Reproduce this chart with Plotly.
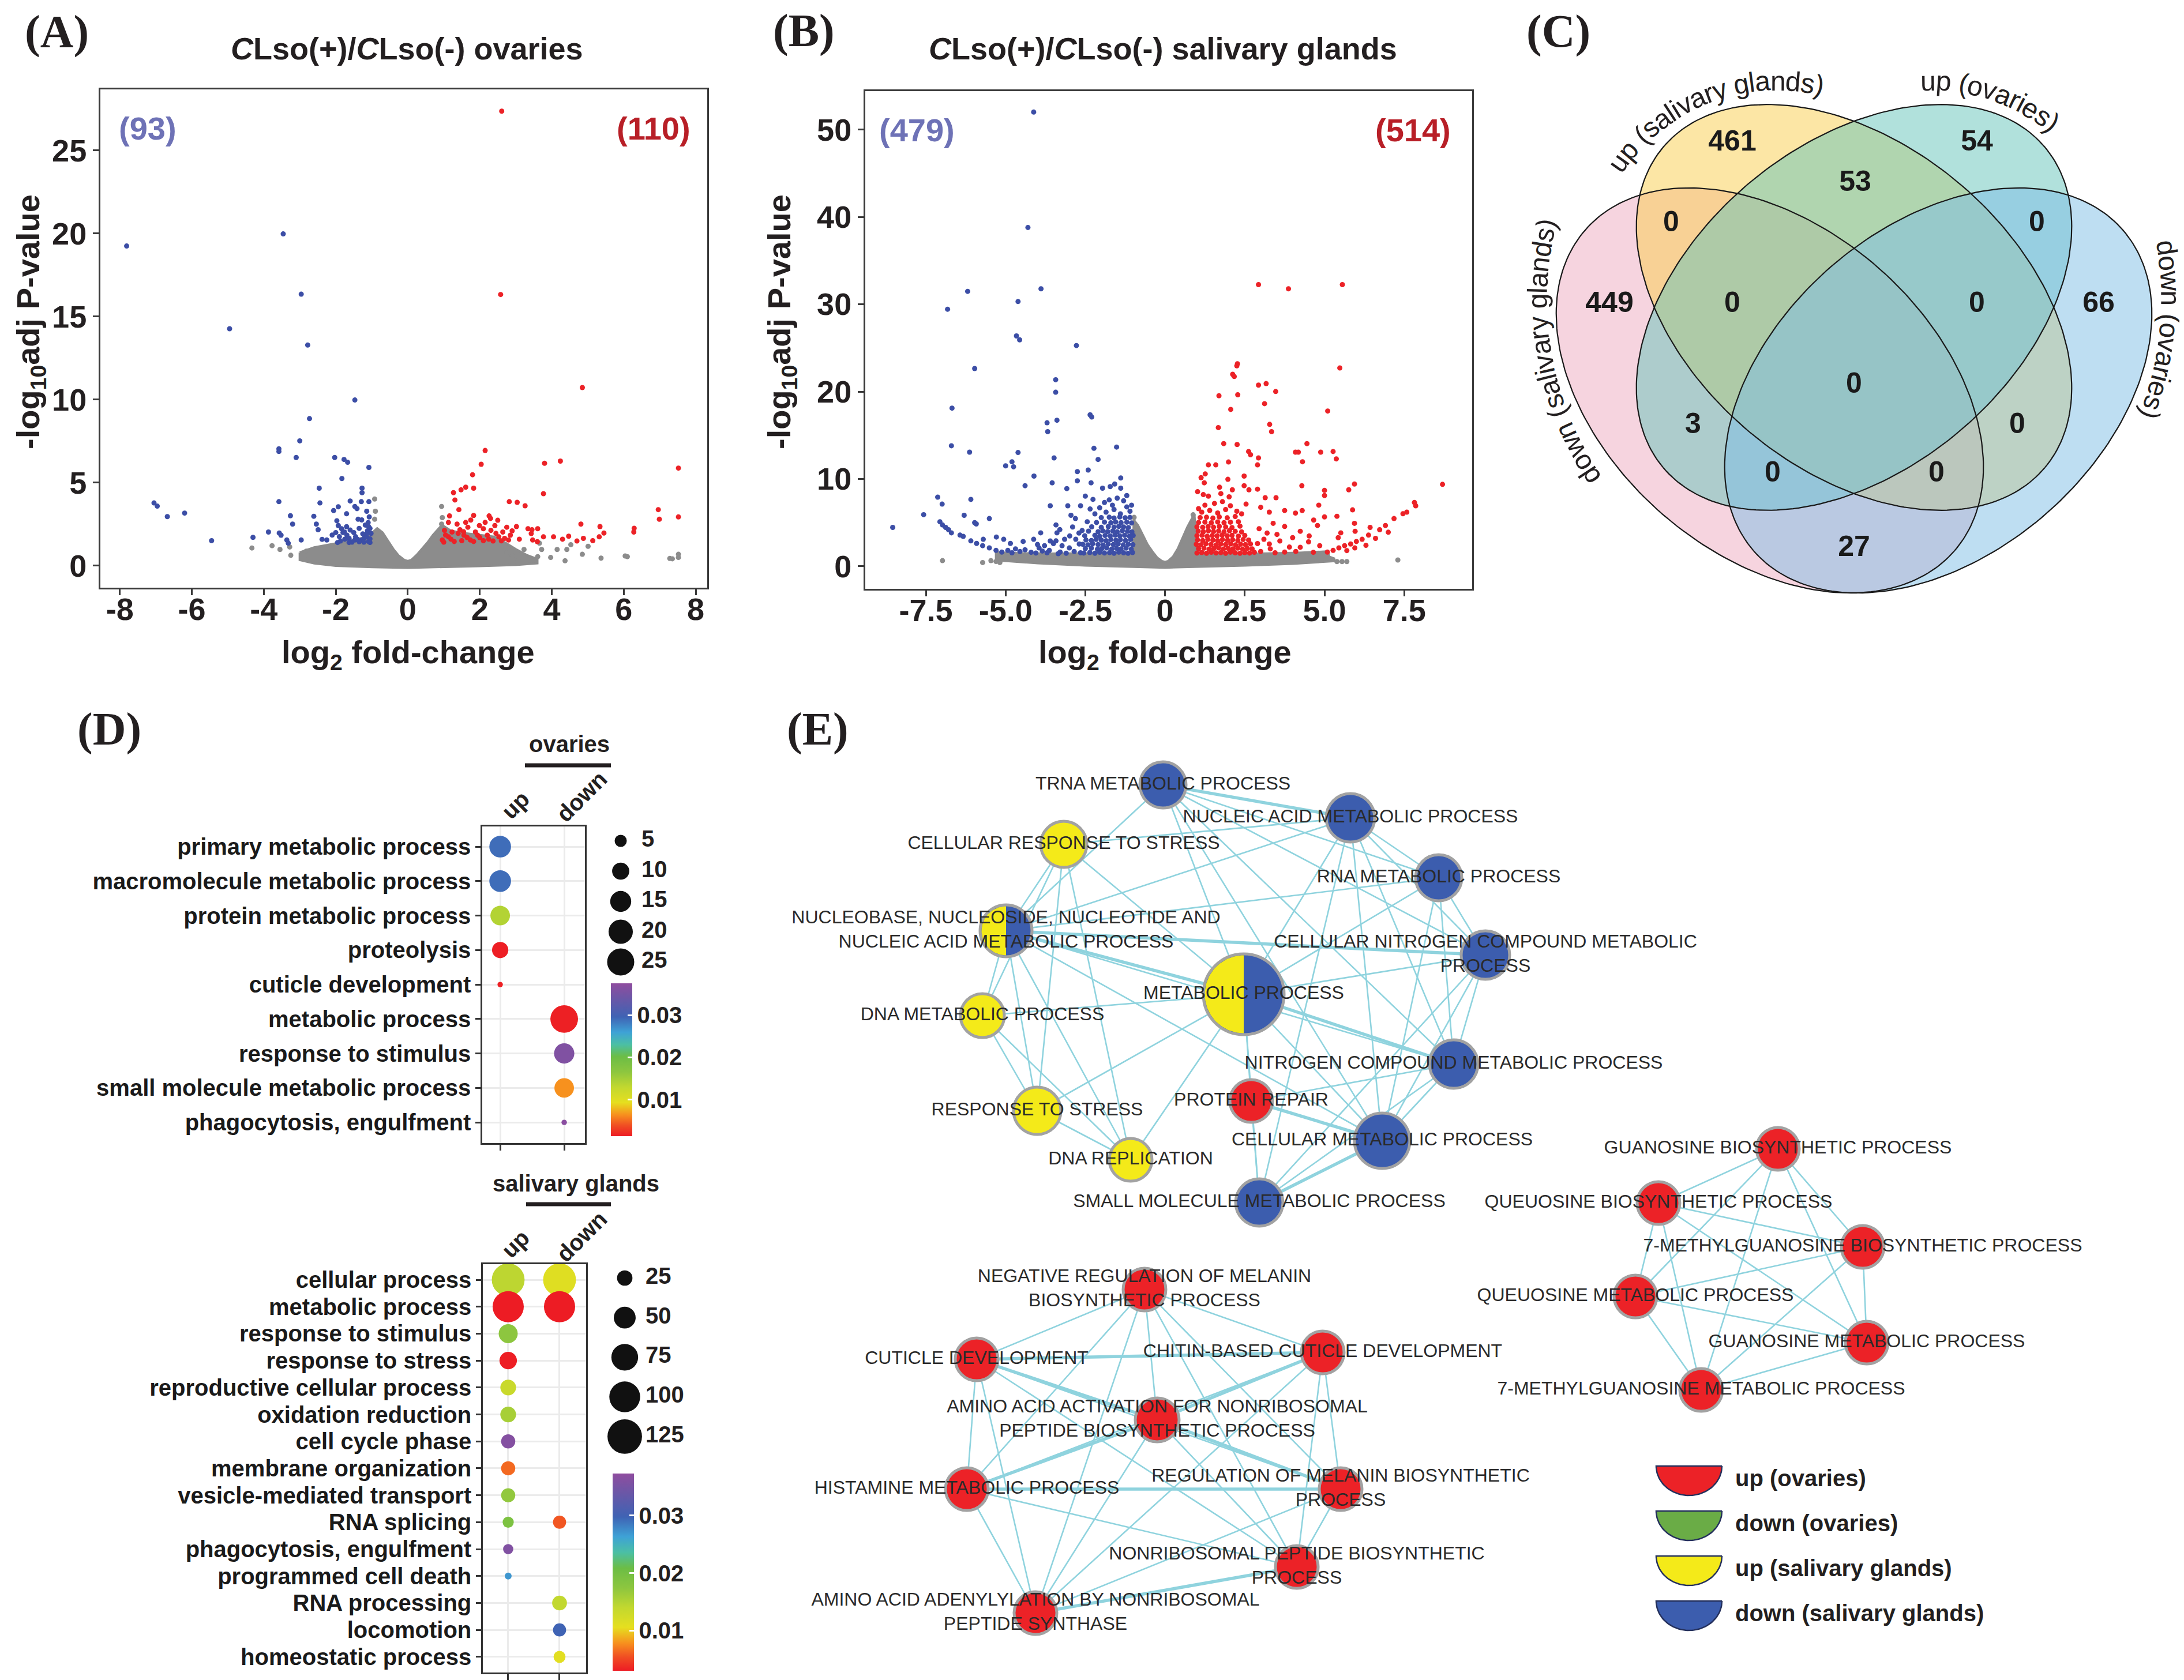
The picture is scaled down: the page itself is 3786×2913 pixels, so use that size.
import math
import plotly.graph_objects as go

W, H = 3786, 2913
FONT = "Liberation Sans"
SERIF = "Liberation Serif"
INK = "#231f20"

# ======================= DATA =======================
# ---- Panel A: ovaries volcano (log2FC, -log10 adj P) ----
ova_down = [(-7.81,19.25),(-3.46,19.98),(-2.96,16.35),(-4.95,14.27),(-2.78,13.29),(-1.47,9.98),(-2.73,8.86),(-3.00,7.52),
 (-3.58,7.04),(-3.58,6.88),(-3.10,6.52),(-2.03,6.52),(-1.77,6.40),(-1.67,6.23),(-1.08,5.92),(-1.83,5.25),
 (-2.46,4.67),(-1.27,4.67),(-1.27,4.40),(-7.05,3.78),(-6.96,3.59),(-3.58,3.86),(-2.44,3.78),(-1.60,3.90),
 (-1.29,3.86),(-1.08,3.86),(-1.93,3.55),(-2.06,3.32),(-1.47,3.57),(-1.41,3.44),(-6.68,2.96),(-6.20,3.17),
 (-3.26,3.01),(-3.20,2.51),(-2.61,2.98),(-1.70,3.13),(-1.14,3.28),(-1.07,2.94),(-1.97,2.71),(-1.93,2.42),
 (-1.84,2.23),(-1.76,2.03),(-1.69,1.84),(-2.54,2.51),(-2.49,2.17),(-1.38,2.80),(-1.28,2.76),(-1.09,2.36),
 (-3.87,2.03),(-3.57,1.97),(-3.52,1.84),(-4.30,1.71),(-5.45,1.51),(-3.36,1.55),(-3.32,1.36),(-2.96,1.55),
 (-2.38,1.59),(-1.87,1.49),(-1.63,1.65),(-1.47,1.55),(-1.28,1.55),(-1.14,1.74),(-1.09,1.46),(-1.63,1.40),
 (-1.95,1.40),(-1.12,2.10),(-1.15,1.90),(-1.20,1.70),(-1.05,1.62),(-1.35,1.45),(-1.55,1.42),(-1.75,1.60),
 (-1.90,1.75),(-1.80,2.00),(-1.10,2.60),(-1.05,2.25),(-1.70,2.35),(-2.00,2.00),(-1.25,1.92),(-1.45,1.75),
 (-1.02,1.95),(-1.18,2.45),(-1.60,2.15),(-1.40,1.60),(-1.22,1.42),(-1.05,1.40),(-1.50,2.00),(-2.10,1.85),
 (-2.25,1.55),(-1.35,2.25)]
ova_up = [(2.61,27.37),(2.58,16.33),(4.85,10.73),(2.15,6.94),(2.04,6.11),(3.80,6.17),(4.24,6.30),(7.52,5.88),
 (1.80,5.48),(1.27,4.40),(1.48,4.57),(1.61,4.73),(1.83,4.67),(1.31,3.96),(3.77,4.34),(2.82,3.86),
 (3.04,3.82),(3.26,3.61),(1.42,3.38),(6.96,3.38),(6.99,2.80),(7.52,2.94),(1.16,3.00),(1.83,3.03),
 (2.26,3.00),(2.50,2.74),(4.81,2.51),(5.34,2.36),(5.45,1.97),(5.32,1.74),(5.14,1.51),(6.29,2.26),
 (6.28,2.03),(3.02,2.36),(3.34,2.23),(3.45,2.17),(3.61,2.23),(3.43,1.94),(3.47,1.55),(3.77,1.74),
 (4.05,1.74),(4.47,1.78),(4.70,1.49),(4.88,1.65),(1.02,2.13),(1.13,1.74),(1.23,2.03),(1.37,2.51),
 (1.45,2.17),(1.56,1.84),(1.67,2.32),(1.74,1.55),(1.88,2.03),(1.99,2.42),(2.10,2.23),(2.15,2.61),
 (2.21,1.84),(2.31,2.13),(2.42,2.42),(2.53,1.74),(2.64,2.03),(2.75,2.32),(2.80,1.55),(0.96,1.55),
 (1.29,1.46),(1.50,1.51),(1.83,1.46),(2.10,1.51),(2.37,1.49),(2.69,1.65),(2.85,1.84),(1.13,2.61),
 (1.61,2.61),(1.94,1.84),(1.05,1.85),(1.20,1.60),(1.40,1.95),(1.65,1.70),(2.00,1.70),(2.25,1.60),
 (2.45,1.95),(2.60,1.50),(1.00,1.42),(1.55,2.05),(2.90,2.10),(3.10,1.60),(4.30,1.60),(3.60,1.45),
 (1.75,2.75),(2.30,2.85)]
ova_ns = [(-4.33,1.07),(-3.77,1.21),(-3.55,0.98),(-3.25,0.63),(-3.28,1.13),(-2.87,0.40),(-2.82,0.88),
 (-0.92,4.02),(-0.90,3.28),(-0.92,2.80),(0.94,3.57),(0.96,2.90),(0.94,2.51),(3.66,1.36),(3.72,0.98),
 (3.97,0.50),(3.61,0.55),(4.15,0.98),(4.37,0.30),(4.42,0.98),(4.53,1.27),(4.85,0.69),(5.01,1.17),
 (5.37,0.46),(6.04,0.59),(6.10,0.55),(7.28,0.44),(7.35,0.42),(7.52,0.69),(7.52,0.50),(3.07,0.30),
 (2.91,0.59),(2.75,0.78),(3.23,0.98)]
# outline of the dense non-significant cloud
ova_ns_cloud = [(-3.0,0.8),(-2.6,1.1),(-2.1,1.3),(-1.6,1.5),(-1.2,1.7),(-0.98,2.0),(-0.85,2.25),(-0.7,2.0),
 (-0.55,1.5),(-0.4,1.0),(-0.25,0.6),(-0.1,0.35),(0.0,0.28),(0.1,0.35),(0.25,0.65),(0.4,1.0),(0.55,1.4),
 (0.7,1.85),(0.85,2.2),(0.95,2.45),(1.2,2.1),(1.6,1.95),(2.0,1.85),(2.4,1.75),(2.7,1.4),(3.0,1.0),
 (3.3,0.65),(3.6,0.4),(3.6,0.15),(3.0,0.05),(2.0,-0.02),(1.0,-0.08),(0.0,-0.12),(-1.0,-0.08),
 (-2.0,0.0),(-2.6,0.15),(-3.0,0.35)]
ova_n_down, ova_n_up = 93, 110

# ---- Panel B: salivary glands volcano ----
sal_down = [(-4.12,52.0),(-4.30,38.79),(-6.19,31.48),(-3.89,31.77),(-6.82,29.43),(-4.61,30.31),(-4.66,26.37),(-4.56,25.93),
 (-2.78,25.27),(-5.97,22.64),(-3.43,21.36),(-3.43,19.93),(-6.68,18.11),(-2.35,17.34),(-2.30,17.09),(-3.39,16.72),
 (-3.70,16.43),(-3.68,15.41),(-6.70,13.80),(-6.13,13.07),(-4.61,13.03),(-2.23,13.51),(-1.52,13.65),(-3.48,12.41),
 (-2.10,12.23),(-5.00,11.50),(-4.80,11.97),(-4.75,11.39),(-4.11,10.33),(-2.75,10.84),(-2.41,11.02),(-4.39,9.23),
 (-3.54,9.56),(-2.75,9.78),(-3.08,8.90),(-2.32,9.56),(-1.96,8.94),(-1.72,9.12),(-1.58,9.42),(-1.39,10.11),(-1.39,8.94),
 (-7.13,7.92),(-6.99,7.12),(-6.09,7.66),(-7.57,5.91),(-8.54,4.45),(-6.30,5.84),(-5.51,5.47),(-5.97,5.00),(-5.92,4.85),
 (-7.06,5.10),(-6.98,4.74),(-6.88,4.45),(-6.79,4.19),(-6.70,3.83),(-6.43,3.57),(-6.33,3.43),(-6.09,2.91),(-5.91,2.62),
 (-5.72,2.36),(-5.51,2.11),(-5.30,1.82),(-5.12,1.63),(-4.93,1.82),(-5.70,3.09),(-5.29,3.35),(-5.06,3.09),(-4.85,2.62),
 (-4.69,2.00),(-4.45,2.84),(-4.39,1.89),(-4.12,3.09),(-4.05,1.52),(-3.90,3.83),(-3.78,2.36),(-3.60,6.93),(-3.63,1.82),
 (-3.42,4.74),(-3.39,3.83),(-3.42,2.91),(-3.23,2.36),(-3.29,1.63),(-3.05,6.93),(-2.95,5.84),(-2.99,3.47),(-2.81,5.47),
 (-2.69,2.55),(-2.65,6.93),(-2.50,8.03),(-2.44,5.10),(-2.35,6.56),(-2.26,7.66),
 (-4.20,1.60),(-3.95,2.10),(-3.70,1.55),(-3.50,2.60),(-3.15,3.10),(-3.00,2.10),(-2.85,1.70),(-2.70,3.80),
 (-3.30,4.20),(-2.90,4.50),(-2.60,4.10),(-2.80,3.10),(-3.60,2.90),(-4.00,2.50),(-4.55,1.70),(-4.80,1.55),
 (-3.85,1.75),(-3.10,1.50),(-2.65,1.55),(-3.35,1.45),
 (-2.55,1.52),(-2.36,1.58),(-2.20,1.49),(-2.05,1.61),(-1.90,1.53),(-1.74,1.57),(-1.60,1.50),(-1.45,1.62),(-1.30,1.55),(-1.16,1.49),(-1.02,1.58),
 (-2.50,2.02),(-2.31,2.08),(-2.12,1.96),(-1.98,2.05),(-1.83,2.11),(-1.67,1.98),(-1.52,2.06),(-1.38,2.00),(-1.22,2.09),(-1.06,1.97),
 (-2.58,2.52),(-2.42,2.46),(-2.27,2.58),(-2.10,2.50),(-1.94,2.44),(-1.78,2.56),(-1.62,2.49),(-1.47,2.57),(-1.31,2.45),(-1.15,2.53),(-1.01,2.48),
 (-2.48,3.02),(-2.31,2.95),(-2.16,3.08),(-2.00,3.00),(-1.85,2.94),(-1.70,3.06),(-1.54,2.98),(-1.40,3.04),(-1.24,2.96),(-1.08,3.07),
 (-2.52,3.50),(-2.20,3.55),(-2.05,3.44),(-1.88,3.52),(-1.72,3.47),(-1.57,3.58),(-1.42,3.49),(-1.27,3.55),(-1.12,3.45),(-1.00,3.53),
 (-2.40,4.02),(-2.10,3.96),(-1.95,4.06),(-1.80,3.98),(-1.64,4.04),(-1.50,3.95),(-1.34,4.07),(-1.18,4.00),(-1.04,3.94),
 (-2.30,4.52),(-2.00,4.46),(-1.78,4.55),(-1.60,4.48),(-1.45,4.57),(-1.30,4.50),(-1.15,4.44),
 (-2.15,5.02),(-1.90,5.06),(-1.70,4.98),(-1.55,5.08),(-1.38,5.00),(-1.20,5.05),(-1.05,4.96),
 (-2.00,5.58),(-1.75,5.62),(-1.60,5.52),(-1.42,5.65),(-1.25,5.55),(-1.10,5.60),
 (-1.85,6.20),(-1.60,6.50),(-1.40,6.00),(-1.20,6.80),(-1.10,6.30),(-1.65,7.00),(-1.90,7.30),(-1.30,7.50),
 (-1.05,7.00),(-1.50,7.80),(-1.75,7.60),(-1.20,8.10),(-2.05,6.70),(-2.20,6.00)]
sal_up = [(2.93,32.25),(3.87,31.77),(5.56,32.25),(2.27,23.19),(2.25,22.95),(5.48,22.71),(2.12,21.98),(2.17,21.73),(2.93,20.74),(3.17,20.92),(3.47,20.01),
 (1.69,19.53),(2.28,19.64),(3.12,18.62),(2.06,17.96),(5.10,17.78),(3.28,16.25),(3.34,15.41),(1.67,15.88),(1.84,14.05),(2.26,13.94),(4.45,14.05),
 (4.09,13.07),(4.18,13.07),(4.88,13.07),(5.27,13.14),(5.37,12.30),(2.62,13.14),(2.68,12.77),(2.93,12.41),(2.90,11.61),(4.31,11.97),
 (1.36,11.61),(1.59,11.61),(1.99,11.94),(1.26,10.58),(1.13,10.15),(1.23,9.56),(1.97,9.96),(2.48,10.33),(8.70,9.38),
 (4.29,9.23),(5.94,9.42),(5.76,8.76),(5.00,8.69),(5.00,8.10),(1.02,8.54),(1.20,8.21),(1.36,8.03),(1.71,9.05),(1.75,8.32),(2.01,7.95),(2.11,8.76),
 (2.48,9.23),(2.63,8.76),(2.90,8.83),(3.14,7.85),(3.48,7.85),(7.82,7.30),(7.86,6.93),(4.82,7.00),(5.88,6.46),(5.39,5.73),(5.00,5.65),(4.66,5.29),
 (4.30,6.39),(4.09,6.09),(3.75,6.39),(3.27,6.20),(3.00,6.75),(2.54,7.12),(2.05,6.93),(7.58,6.20),(7.46,6.02),(7.18,5.47),(6.91,4.67),(6.73,4.19),
 (6.43,4.45),(5.94,4.92),(5.96,4.01),(6.38,3.57),(6.18,3.09),(6.00,2.84),(5.82,2.55),(5.63,2.36),(5.45,2.11),(5.27,1.82),(5.09,1.63),(5.51,3.83),
 (5.43,3.28),(4.78,4.67),(4.52,3.47),(4.24,4.01),(4.00,3.28),(3.75,4.56),(3.51,3.65),(3.39,4.92),(3.27,2.55),(4.24,2.18),(4.85,2.36),(3.75,1.63),
 (3.10,3.10),(3.30,2.00),(3.60,2.90),(3.90,2.20),(4.10,1.70),(4.50,2.80),(4.65,1.60),(3.00,1.70),(3.45,1.55),(2.95,4.30),(3.20,3.80),(2.90,2.60),
 (5.70,1.80),(5.95,2.10),(6.30,2.40),(6.60,3.20),(7.00,3.90),
 (1.00,1.52),(1.15,1.58),(1.30,1.49),(1.45,1.61),(1.60,1.53),(1.75,1.57),(1.90,1.50),(2.05,1.62),(2.20,1.55),(2.35,1.49),(2.50,1.58),(2.65,1.52),(2.80,1.60),
 (1.05,2.02),(1.22,2.08),(1.38,1.96),(1.53,2.05),(1.68,2.11),(1.83,1.98),(1.98,2.06),(2.13,2.00),(2.28,2.09),(2.43,1.97),(2.58,2.05),(2.73,1.99),
 (0.98,2.52),(1.12,2.46),(1.28,2.58),(1.44,2.50),(1.60,2.44),(1.75,2.56),(1.90,2.49),(2.06,2.57),(2.21,2.45),(2.37,2.53),(2.52,2.48),(2.68,2.56),
 (1.02,3.02),(1.18,2.95),(1.34,3.08),(1.50,3.00),(1.65,2.94),(1.80,3.06),(1.96,2.98),(2.12,3.04),(2.28,2.96),(2.45,3.07),(2.62,3.00),
 (1.00,3.50),(1.16,3.55),(1.32,3.44),(1.48,3.52),(1.63,3.47),(1.79,3.58),(1.95,3.49),(2.10,3.55),(2.30,3.45),(2.50,3.53),
 (1.04,4.02),(1.20,3.96),(1.36,4.06),(1.52,3.98),(1.68,4.04),(1.85,3.95),(2.02,4.07),(2.20,4.00),(2.40,3.94),
 (1.00,4.52),(1.18,4.46),(1.35,4.55),(1.52,4.48),(1.70,4.57),(1.90,4.50),(2.10,4.44),(2.35,4.60),
 (1.05,5.02),(1.25,5.06),(1.45,4.98),(1.65,5.08),(1.85,5.00),(2.05,5.05),(2.30,5.10),
 (1.10,5.58),(1.30,5.62),(1.50,5.52),(1.70,5.65),(1.95,5.55),(2.20,5.70),
 (1.15,6.20),(1.40,6.40),(1.65,6.10),(1.90,6.50),(1.25,7.00),(1.55,7.20),(2.25,6.30),(1.05,6.60),(1.80,7.40),(2.40,6.00)]
sal_ns = [(-6.98,0.65),(-5.72,0.43),(-5.46,0.65),(-5.18,0.43),(-5.30,0.55),(5.39,0.54),(5.55,0.54),(5.70,0.54),
 (7.30,0.72),(-0.97,5.6),(0.88,5.9)]
sal_ns_cloud = [(-5.3,1.6),(-4.6,1.5),(-3.6,1.45),(-2.6,1.45),(-1.0,1.5),(-0.98,5.3),(-0.85,4.7),(-0.7,3.6),
 (-0.55,2.5),(-0.4,1.7),(-0.25,1.0),(-0.1,0.6),(0.0,0.5),(0.1,0.6),(0.25,1.1),(0.4,2.0),(0.55,3.2),(0.7,4.5),
 (0.85,5.5),(0.92,5.9),(1.0,1.5),(3.0,1.45),(4.2,1.55),(5.1,1.7),(5.15,1.1),(5.3,0.9),(5.3,0.6),(4.0,0.3),
 (2.5,0.1),(1.0,-0.05),(0.0,-0.15),(-1.0,-0.05),(-2.5,0.1),(-4.0,0.35),(-5.3,0.7)]
sal_n_down, sal_n_up = 479, 514

# ---- Panel C: Venn ----
venn_sets = ["down (salivary glands)", "up (salivary glands)", "up (ovaries)", "down (ovaries)"]
venn_counts = [461, 54, 53, 0, 0, 449, 0, 0, 66, 0, 3, 0, 0, 0, 27]

# ---- Panel D: GO enrichment dot plots ----
ov_terms = ["primary metabolic process", "macromolecule metabolic process", "protein metabolic process",
            "proteolysis", "cuticle development", "metabolic process", "response to stimulus",
            "small molecule metabolic process", "phagocytosis, engulfment"]
ov_dir = ["up", "up", "up", "up", "up", "down", "down", "down", "down"]
ov_count = [16, 16, 13, 9, 1, 26, 14, 13, 1]
ov_padj = [0.0290, 0.0290, 0.0140, 0.0015, 0.0016, 0.0016, 0.0360, 0.0065, 0.0370]
ov_size_legend = [5, 10, 15, 20, 25]

sal_terms = ["cellular process", "metabolic process", "response to stimulus", "response to stress",
             "reproductive cellular process", "oxidation reduction", "cell cycle phase",
             "membrane organization", "vesicle-mediated transport", "RNA splicing",
             "phagocytosis, engulfment", "programmed cell death", "RNA processing",
             "locomotion", "homeostatic process"]
sal_go_term = ["cellular process", "cellular process", "metabolic process", "metabolic process",
               "response to stimulus", "response to stress", "reproductive cellular process",
               "oxidation reduction", "cell cycle phase", "membrane organization",
               "vesicle-mediated transport", "RNA splicing", "RNA splicing",
               "phagocytosis, engulfment", "programmed cell death", "RNA processing",
               "locomotion", "homeostatic process"]
sal_go_dir = ["up", "down", "up", "down", "up", "up", "up", "up", "up", "up", "up", "up", "down",
              "up", "up", "down", "down", "down"]
sal_go_count = [113, 113, 102, 102, 38, 32, 26, 26, 21, 21, 21, 13, 18, 11, 5, 23, 18, 15]
sal_go_padj = [0.0143, 0.0112, 0.0030, 0.0030, 0.0174, 0.0031, 0.0133, 0.0157, 0.0363, 0.0064,
               0.0171, 0.0191, 0.0057, 0.0360, 0.0270, 0.0140, 0.0298, 0.0109]
sal_size_legend = [25, 50, 75, 100, 125]
cbar_ticks = [0.01, 0.02, 0.03]

# ---- Panel E: enrichment network (Cytoscape layout coordinates) ----
net_labels = [
    "TRNA METABOLIC PROCESS", "NUCLEIC ACID METABOLIC PROCESS", "CELLULAR RESPONSE TO STRESS",
    "RNA METABOLIC PROCESS", "NUCLEOBASE, NUCLEOSIDE, NUCLEOTIDE AND<br>NUCLEIC ACID METABOLIC PROCESS",
    "CELLULAR NITROGEN COMPOUND METABOLIC<br>PROCESS", "METABOLIC PROCESS", "DNA METABOLIC PROCESS",
    "NITROGEN COMPOUND METABOLIC PROCESS", "PROTEIN REPAIR", "RESPONSE TO STRESS",
    "CELLULAR METABOLIC PROCESS", "DNA REPLICATION", "SMALL MOLECULE METABOLIC PROCESS",
    "NEGATIVE REGULATION OF MELANIN<br>BIOSYNTHETIC PROCESS", "CUTICLE DEVELOPMENT",
    "CHITIN-BASED CUTICLE DEVELOPMENT", "AMINO ACID ACTIVATION FOR NONRIBOSOMAL<br>PEPTIDE BIOSYNTHETIC PROCESS",
    "HISTAMINE METABOLIC PROCESS", "REGULATION OF MELANIN BIOSYNTHETIC<br>PROCESS",
    "NONRIBOSOMAL PEPTIDE BIOSYNTHETIC<br>PROCESS", "AMINO ACID ADENYLYLATION BY NONRIBOSOMAL<br>PEPTIDE SYNTHASE",
    "GUANOSINE BIOSYNTHETIC PROCESS", "QUEUOSINE BIOSYNTHETIC PROCESS", "7-METHYLGUANOSINE BIOSYNTHETIC PROCESS",
    "QUEUOSINE METABOLIC PROCESS", "GUANOSINE METABOLIC PROCESS", "7-METHYLGUANOSINE METABOLIC PROCESS"]
net_x = [2008, 2333, 1836, 2486, 1736, 2567, 2148, 1695, 2512, 2161, 1790, 2388, 1952, 2175,
         1976, 1685, 2285, 1998, 1668, 2316, 2240, 1787,
         3074, 2867, 3221, 2827, 3228, 2941]
net_y = [1353, 1410, 1456, 1514, 1606, 1648, 1716, 1753, 1837, 1901, 1918, 1970, 2003, 2077,
         2228, 2349, 2337, 2454, 2574, 2574, 2709, 2789,
         1984, 2078, 2154, 2240, 2320, 2402]
net_group = ["sg_down", "sg_down", "sg_up", "sg_down", "sg_both", "sg_down", "sg_both", "sg_up",
             "sg_down", "ov_up", "sg_up", "sg_down", "sg_up", "sg_down"] + ["ov_up"] * 14
net_size = [80, 84, 80, 80, 90, 84, 140, 76, 84, 74, 82, 96, 74, 82,
            74, 74, 74, 76, 74, 74, 74, 74, 74, 74, 74, 74, 74, 74]
net_edges = [(0,1,2),(0,3,1),(0,4,1),(0,5,1),(0,6,1),(0,8,1),(0,11,1),(1,3,1),(1,4,1),(1,5,1),(1,6,1),
             (1,8,1),(1,11,1),(1,13,1),(2,4,1),(2,6,1),(2,7,1),(2,10,1),(2,1,1),(3,4,1),(3,5,1),(3,6,1),
             (3,8,1),(3,11,1),(4,5,2),(4,6,2),(4,7,1),(4,8,1),(4,10,1),(4,12,1),(4,11,1),(5,6,1),(5,8,1),
             (5,11,1),(5,13,1),(6,7,1),(6,8,2),(6,9,1),(6,10,1),(6,11,1),(6,12,1),(6,13,1),(7,10,1),
             (7,12,1),(8,11,1),(8,13,1),(8,9,1),(9,11,2),(9,13,1),(11,13,2),(10,12,1),(2,12,1),
             (14,15,1),(14,16,1),(14,17,1),(14,18,1),(14,19,1),(14,20,1),(14,21,1),(15,16,2),(15,17,2),
             (15,18,1),(15,19,1),(15,20,1),(15,21,1),(16,17,2),(16,18,1),(16,19,1),(16,20,1),(16,21,1),
             (17,18,2),(17,19,2),(17,20,1),(17,21,1),(18,19,2),(18,20,1),(18,21,1),(19,20,1),(19,21,1),
             (20,21,2),
             (22,23,1),(22,24,1),(22,25,1),(22,26,1),(22,27,1),(23,24,1),(23,25,1),(23,26,1),(23,27,1),
             (24,25,1),(24,26,1),(24,27,1),(25,26,1),(25,27,1),(26,27,1)]
net_legend = ["up (ovaries)", "down (ovaries)", "up (salivary glands)", "down (salivary glands)"]

# ======================= STYLE =======================
BLUE_PT, RED_PT, GRAY_PT = "#3c4ea6", "#ec2227", "#8c8c8c"
GROUP_COL = {"ov_up": "#ec2227", "ov_down": "#6aac46", "sg_up": "#f4ea19", "sg_down": "#3c5dae"}
RAINBOW = [[0.0, "#ed1c24"], [0.07, "#f04e23"], [0.14, "#f7901e"], [0.22, "#e6df1f"],
           [0.32, "#c2d82f"], [0.42, "#8dc63f"], [0.52, "#6cbd45"], [0.60, "#4bbfa5"],
           [0.68, "#3ea2d6"], [0.78, "#3f63b4"], [0.90, "#6a57a7"], [1.0, "#8f4d9f"]]
VENN_FILL = ["rgba(235,160,185,0.45)", "rgba(250,205,75,0.5)", "rgba(100,195,185,0.5)", "rgba(125,190,230,0.5)"]


def fx(p):
    return p / W


def fy(p):
    return 1 - p / H


def unzip(pts):
    return [p[0] for p in pts], [p[1] for p in pts]


def font(size, bold=False, color=INK, family=FONT):
    d = dict(family=family, size=size, color=color)
    if bold:
        d["weight"] = "bold"
    return d


def ann(text, x, y, size, bold=False, color=INK, angle=0, family=FONT, xanchor="center", yanchor="middle"):
    return dict(text=text, x=fx(x), y=fy(y), xref="paper", yref="paper", showarrow=False,
                textangle=angle, font=font(size, bold, color, family), xanchor=xanchor, yanchor=yanchor)


fig = go.Figure()
annotations = []
shapes = []

# ======================= PANELS A & B =======================
for pts_cloud, pts_ns, pts_dn, pts_up, xa, ya in [
        (ova_ns_cloud, ova_ns, ova_down, ova_up, "x", "y"),
        (sal_ns_cloud, sal_ns, sal_down, sal_up, "x2", "y2")]:
    cx, cy = unzip(pts_cloud)
    fig.add_trace(go.Scatter(x=cx + [cx[0]], y=cy + [cy[0]], mode="lines", fill="toself",
                             fillcolor=GRAY_PT, line=dict(color=GRAY_PT, width=4),
                             xaxis=xa, yaxis=ya, hoverinfo="skip"))
    for pts, col in [(pts_ns, GRAY_PT), (pts_dn, BLUE_PT), (pts_up, RED_PT)]:
        px_, py_ = unzip(pts)
        fig.add_trace(go.Scatter(x=px_, y=py_, mode="markers", xaxis=xa, yaxis=ya,
                                 marker=dict(color=col, size=9, opacity=1, line=dict(width=0))))

vol_common = dict(showgrid=False, zeroline=False, showline=True, mirror=True, linecolor="#3a3a3a",
                  linewidth=3, ticks="outside", ticklen=10, tickwidth=3, tickcolor="#3a3a3a",
                  tickfont=font(54, True), fixedrange=True)
a_xt = [-8, -6, -4, -2, 0, 2, 4, 6, 8]
b_xt = [-7.5, -5.0, -2.5, 0, 2.5, 5.0, 7.5]
layout_axes = dict(
    xaxis=dict(domain=[fx(166), fx(1218)], range=[-8.54, 8.32], tickvals=a_xt,
               ticktext=[str(v) for v in a_xt], anchor="y", **vol_common),
    yaxis=dict(domain=[fy(1011), fy(147)], range=[-1.32, 28.68], tickvals=[0, 5, 10, 15, 20, 25],
               ticktext=["0", "5", "10", "15", "20", "25"], anchor="x", **vol_common),
    xaxis2=dict(domain=[fx(1492), fx(2544)], range=[-9.40, 9.63], tickvals=b_xt,
                ticktext=["-7.5", "-5.0", "-2.5", "0", "2.5", "5.0", "7.5"], anchor="y2", **vol_common),
    yaxis2=dict(domain=[fy(1013), fy(150)], range=[-2.58, 54.4], tickvals=[0, 10, 20, 30, 40, 50],
                ticktext=["0", "10", "20", "30", "40", "50"], anchor="x2", **vol_common),
)

annotations += [
    ann("(A)", 90, 48, 80, True, family=SERIF), ann("(B)", 1385, 46, 80, True, family=SERIF),
    ann("(C)", 2693, 47, 80, True, family=SERIF), ann("(D)", 181, 1256, 80, True, family=SERIF),
    ann("(E)", 1409, 1256, 80, True, family=SERIF),
    ann("<i>C</i>Lso(+)/<i>C</i>Lso(-) ovaries", 697, 76, 54, True),
    ann("<i>C</i>Lso(+)/<i>C</i>Lso(-) salivary glands", 2008, 76, 54, True),
    ann("-log<sub>10</sub>adj P-value", 44, 550, 56, True, angle=-90),
    ann("-log<sub>10</sub>adj P-value", 1346, 550, 56, True, angle=-90),
    ann("log<sub>2</sub> fold-change", 699, 1126, 56, True),
    ann("log<sub>2</sub> fold-change", 2012, 1126, 56, True),
    ann("(%d)" % ova_n_down, 248, 215, 56, True, color="#6e72b6"),
    ann("(%d)" % ova_n_up, 1125, 215, 56, True, color="#b81f27"),
    ann("(%d)" % sal_n_down, 1581, 218, 56, True, color="#6e72b6"),
    ann("(%d)" % sal_n_up, 2441, 218, 56, True, color="#b81f27"),
]

# ======================= OVERLAY (pixel) AXIS: C, E, legends =======================
OV = dict(xaxis="x3", yaxis="y3")


def ellipse_pts(cx, cy, a, b, ang_deg, n=240):
    th = math.radians(ang_deg)
    xs, ys = [], []
    for i in range(n + 1):
        t = 2 * math.pi * i / n
        u, v = a * math.cos(t), b * math.sin(t)
        xs.append(cx + u * math.cos(th) - v * math.sin(th))
        ys.append(cy + u * math.sin(th) + v * math.cos(th))
    return xs, ys


venn_geom = [(3060, 669, 424, 284, 41), (3206, 525, 432, 282, 40),
             (3206, 525, 432, 282, 140), (3352, 669, 424, 284, 139)]
for (cx, cy, a, b, ang), col in zip(venn_geom, VENN_FILL):
    ex, ey = ellipse_pts(cx, cy, a, b, ang)
    fig.add_trace(go.Scatter(x=ex, y=ey, mode="lines", fill="toself", fillcolor=col,
                             line=dict(width=0), hoverinfo="skip", **OV))
for (cx, cy, a, b, ang) in venn_geom:
    ex, ey = ellipse_pts(cx, cy, a, b, ang)
    fig.add_trace(go.Scatter(x=ex, y=ey, mode="lines", line=dict(color="#1a1a1a", width=2.2),
                             hoverinfo="skip", **OV))
venn_lab_x = [2995, 3419, 3208, 2889, 3523, 2782, 2995, 3419, 3630, 3206, 2927, 3489, 3065, 3349, 3206]
venn_lab_y = [240, 240, 310, 380, 380, 520, 520, 520, 520, 660, 730, 730, 814, 814, 943]
fig.add_trace(go.Scatter(x=venn_lab_x, y=venn_lab_y, mode="text", text=[str(c) for c in venn_counts],
                         textfont=font(50, True, "#1a1a1a"), hoverinfo="skip", **OV))

ARIAL_W = {"u": .556, "p": .556, " ": .278, "(": .333, ")": .333, "s": .5, "a": .556, "l": .222,
           "i": .222, "v": .5, "r": .333, "y": .5, "g": .556, "n": .556, "d": .556, "o": .556,
           "w": .722, "e": .556}


def arc_text(text, cx, cy, R, phi_c, fs):
    widths = [ARIAL_W.get(ch, .556) * fs for ch in text]
    span = sum(widths) / R
    phi0 = math.radians(phi_c) - span / 2
    cum = 0.0
    out = []
    for ch, w in zip(text, widths):
        phi = phi0 + (cum + w / 2) / R
        cum += w
        if ch == " ":
            continue
        x = cx + R * math.cos(phi)
        y = cy + R * math.sin(phi)
        angle = (math.degrees(phi) + 90 + 180) % 360 - 180
        out.append(ann(ch, x, y, fs, False, "#231f20", angle))
    return out


venn_arcs = [(3213, 512, 556, 170), (3073, 470, 338, 248.5), (3339, 470, 338, 288.5), (3199, 512, 556, 5.5)]
for name, (acx, acy, R, phic) in zip(venn_sets, venn_arcs):
    annotations += arc_text(name, acx, acy, R, phic, 48)

# ---------- Panel E network ----------
for wgt, lw in [(1, 2.6), (2, 5.5)]:
    ex, ey = [], []
    for i, j, w in net_edges:
        if w == wgt:
            ex += [net_x[i], net_x[j], None]
            ey += [net_y[i], net_y[j], None]
    fig.add_trace(go.Scatter(x=ex, y=ey, mode="lines", line=dict(color="#8fd3de", width=lw),
                             hoverinfo="skip", **OV))
NODE_LW = 5
main_col = [GROUP_COL["sg_down"] if g == "sg_both" else GROUP_COL[g] for g in net_group]
fig.add_trace(go.Scatter(x=net_x, y=net_y, mode="markers",
                         marker=dict(size=net_size, color=main_col, opacity=1,
                                     line=dict(color="#a2a2a2", width=NODE_LW)),
                         hoverinfo="skip", **OV))
for k, g in enumerate(net_group):
    if g != "sg_both":
        continue
    r = net_size[k] / 2 - NODE_LW / 2
    hx, hy = [], []
    for i in range(61):
        t = math.pi / 2 + math.pi * i / 60
        hx.append(net_x[k] + r * math.cos(t))
        hy.append(net_y[k] + r * math.sin(t))
    fig.add_trace(go.Scatter(x=hx, y=hy, mode="lines", fill="toself", fillcolor=GROUP_COL["sg_up"],
                             line=dict(width=0), hoverinfo="skip", **OV))
fig.add_trace(go.Scatter(x=net_x, y=net_y, mode="text", text=net_labels, textposition="middle center",
                         textfont=font(32, False, "#2a2a2a"), hoverinfo="skip", **OV))

# network legend (half discs)
leg_cols = [GROUP_COL["ov_up"], GROUP_COL["ov_down"], GROUP_COL["sg_up"], GROUP_COL["sg_down"]]
for k, (lab, col) in enumerate(zip(net_legend, leg_cols)):
    top = 2534 + k * 78
    hx, hy = [], []
    for i in range(61):
        t = math.pi * i / 60
        hx.append(2920 + 57 * math.cos(t))
        hy.append(top + 51 * math.sin(t))
    fig.add_trace(go.Scatter(x=hx + [hx[0]], y=hy + [hy[0]], mode="lines", fill="toself", fillcolor=col,
                             line=dict(color="#24305c", width=2.5), hoverinfo="skip", **OV))
    annotations.append(ann(lab, 2998, top + 21, 40, True, xanchor="left"))

# ======================= PANEL D =======================
SREF_OV = 2.0 / 9.4 ** 2
SREF_SG = 2.0 / 5.35 ** 2
col_index = {"up": 1, "down": 2}
fig.add_trace(go.Scatter(x=[col_index[d] for d in ov_dir], y=list(range(len(ov_terms))), mode="markers",
                         marker=dict(size=ov_count, sizemode="area", sizeref=SREF_OV, color=ov_padj,
                                     coloraxis="coloraxis", opacity=1, line=dict(width=0)),
                         xaxis="x4", yaxis="y4"))
fig.add_trace(go.Scatter(x=[col_index[d] for d in sal_go_dir], y=[sal_terms.index(t) for t in sal_go_term],
                         mode="markers",
                         marker=dict(size=sal_go_count, sizemode="area", sizeref=SREF_SG, color=sal_go_padj,
                                     coloraxis="coloraxis2", opacity=1, line=dict(width=0)),
                         xaxis="x5", yaxis="y5"))
# size legends
for vals, sref, x0, y0, dy in [(ov_size_legend, SREF_OV, 1068, 1450, 52.5),
                               (sal_size_legend, SREF_SG, 1075, 2208, 68.7)]:
    ly = [y0 + i * dy for i in range(len(vals))]
    fig.add_trace(go.Scatter(x=[x0] * len(vals), y=ly, mode="markers",
                             marker=dict(size=vals, sizemode="area", sizeref=sref, color="#111111",
                                         opacity=1, line=dict(width=0)), hoverinfo="skip", **OV))
    fig.add_trace(go.Scatter(x=[x0 + 36] * len(vals), y=ly, mode="text", text=[str(v) for v in vals],
                             textposition="middle right", textfont=font(40, True), hoverinfo="skip", **OV))

d_x = dict(showline=True, mirror=True, linecolor="#333333", linewidth=2.5, ticks="outside", ticklen=10,
           tickwidth=2.5, tickcolor="#333333", showticklabels=False, tickvals=[1, 2], showgrid=True,
           gridcolor="#ebebeb", gridwidth=3, zeroline=False, fixedrange=True)
d_y = dict(showline=True, mirror=True, linecolor="#333333", linewidth=2.5, ticks="outside", ticklen=9,
           tickwidth=2.5, tickcolor="#333333", tickfont=font(40, True, "#1a1a1a"), showgrid=True,
           gridcolor="#ebebeb", gridwidth=3, zeroline=False, fixedrange=True)
layout_axes.update(
    xaxis3=dict(domain=[0, 1], range=[0, W], visible=False, anchor="y3", fixedrange=True),
    yaxis3=dict(domain=[0, 1], range=[H, 0], visible=False, anchor="x3", fixedrange=True),
    xaxis4=dict(domain=[fx(828), fx(1006)], range=[0.72, 2.324], anchor="y4", **d_x),
    yaxis4=dict(domain=[fy(1974), fy(1425)], range=[8.6, -0.586], tickvals=list(range(len(ov_terms))),
                ticktext=ov_terms, anchor="x4", **d_y),
    xaxis5=dict(domain=[fx(829), fx(1008)], range=[0.506, 2.517], anchor="y5", **d_x),
    yaxis5=dict(domain=[fy(2892), fy(2184)], range=[14.58, -0.578], tickvals=list(range(len(sal_terms))),
                ticktext=sal_terms, anchor="x5", **d_y),
)


def cbar(x, ytop, ybot):
    return dict(x=fx(x), xanchor="left", xpad=0, y=fy(ybot), yanchor="bottom", ypad=0,
                len=(ybot - ytop) / H, lenmode="fraction", thickness=37, outlinewidth=0,
                tickvals=cbar_ticks, ticktext=["%.2f" % v for v in cbar_ticks], tickfont=font(40, True),
                ticks="inside", tickcolor="white", ticklen=8, tickwidth=3)


annotations += [
    ann("ovaries", 979, 1282, 40, True), ann("salivary glands", 990, 2044, 40, True),
    ann("up", 885, 1388, 40, True, angle=-45), ann("down", 1000, 1373, 40, True, angle=-45),
    ann("up", 885, 2149, 40, True, angle=-45), ann("down", 1000, 2136, 40, True, angle=-45),
]
shapes += [dict(type="line", xref="paper", yref="paper", x0=fx(902), x1=fx(1051), y0=fy(1319), y1=fy(1319),
                line=dict(color=INK, width=7)),
           dict(type="line", xref="paper", yref="paper", x0=fx(904), x1=fx(1051), y0=fy(2080), y1=fy(2080),
                line=dict(color=INK, width=7))]

fig.update_layout(
    width=W, height=H, margin=dict(l=0, r=0, t=0, b=0, autoexpand=False),
    paper_bgcolor="white", plot_bgcolor="rgba(0,0,0,0)", showlegend=False,
    annotations=annotations, shapes=shapes,
    coloraxis=dict(cmin=0.0014, cmax=0.0375, colorscale=RAINBOW, colorbar=cbar(1051, 1697, 1962)),
    coloraxis2=dict(cmin=0.003, cmax=0.0373, colorscale=RAINBOW, colorbar=cbar(1054, 2547, 2889)),
    **layout_axes,
)
# bring the volcano x tick labels closer to the axis line
for ax in ("xaxis", "xaxis2"):
    try:
        fig.layout[ax].ticklabelstandoff = -22
    except Exception:
        pass

fig.write_html("out.html")
